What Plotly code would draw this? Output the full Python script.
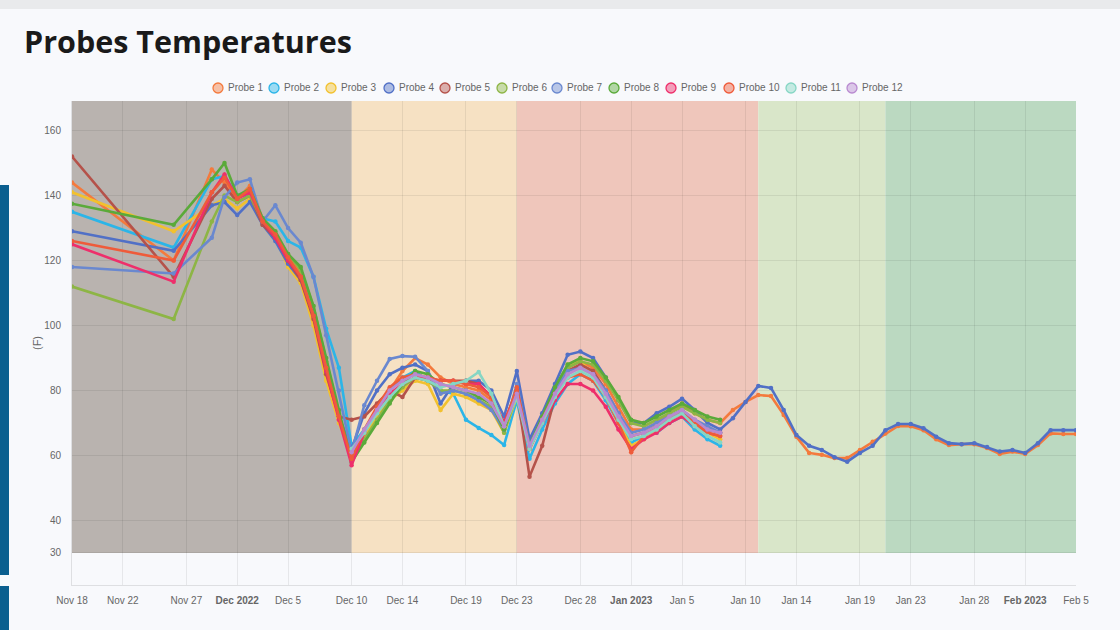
import plotly.graph_objects as go
from datetime import date, timedelta

# ---------------- data ----------------
start_dates = ["2022-11-18", "2022-11-26"]
daily_start = date(2022, 11, 29)
daily_end = date(2023, 2, 5)
dates = start_dates + [(daily_start + timedelta(days=i)).isoformat()
                       for i in range((daily_end - daily_start).days + 1)]

probe_names = [f"Probe {i}" for i in range(1, 13)]
probe_colors = ["#f47a3d", "#2bb5e8", "#f2c12e", "#5170c6", "#b5524a", "#8db545",
                "#6a88cf", "#5aaa3a", "#ee2f6b", "#ef5b3a", "#86d6c4", "#b98ad0"]

# values: Nov18, Nov26, Nov29, Nov30, Dec1..Dec31, Jan1.. (None = no reading)
probe_1 = [144, 120, 148, 144, 139, 143, 133, 128, 121, 116, 104, 87, 71, 60, 66, 73, 80, 86, 90, 88,
           84, 82, 81, 80, 77, 70, 80, 64, 72, 80, 87, 89, 87, 82, 75,
           68, 68, 70, 73, 76, 73, 71, 70, 74, 76.5, 78.6, 78.3, 72.5, 65.8, 60.8, 60.2, 59.2, 59.2,
           61.7, 64.2, 66.8, 69.1, 69, 67.8, 65, 63.2, 63.5, 63.5, 62.3, 60.5, 61.2,
           60.5, 63.2, 66.8, 66.6, 66.6]
probe_2 = [135, 124, 145, 146, 140, 140, 133, 132, 126, 124, 115, 99, 87, 63, 68, 74, 80, 84, 86, 83,
           80, 79, 71, 68.5, 66.3, 63.2, 77, 59, 68, 76, 82, 85, 83, 77, 70,
           64, 66, 67, 70, 72, 68, 65, 63]
probe_3 = [141, 129, 137, 139, 136, 139, 131, 127, 118, 113, 100, 83, 70, 60, 66, 72, 77, 80, 83, 82,
           74, 79, 78, 76, 74, 67, 78, 62, 71, 80, 88, 89, 85, 78, 70,
           63, 65, 68, 71, 73, 70, 67, 65]
probe_4 = [129, 123, 137, 138, 134, 138, 131, 126, 119, 114, 103, 86, 72, 62, 73, 80, 85, 87, 88, 86,
           76, 82, 83, 83, 80, 72, 86, 65, 73, 82, 91, 92, 90, 84, 77,
           70, 70, 73, 75, 77.5, 74, 70, 68, 71.5, 76.5, 81.4, 80.8, 74, 66.3, 63, 61.7, 59.5, 58.1,
           60.8, 63, 67.8, 69.7, 69.7, 68.4, 65.8, 63.8, 63.5, 63.8, 62.6, 61.2, 61.7,
           60.8, 63.8, 67.8, 67.8, 67.8]
probe_5 = [152, 115, 139, 143, 138, 140, 131, 127, 120, 114, 102, 85, 72, 71, 72, 76, 80, 78, 84, 83,
           83, 83, 83, 82, 78, 70, 80, 53.5, 63, 78, 86, 88, 86, 80, 73,
           66, 67, 69, 72, 74, 70, 68, 67]
probe_6 = [112, 102, 132, 140, 138, 140, 132, 128, 122, 117, 106, 89, 73, 59, 65, 71, 77, 81, 84, 83,
           80, 80, 79, 77, 75, 67, 79, 62, 71, 80, 87, 89, 88, 83, 77,
           70, 69, 71, 73, 75, 73, 71, 70]
probe_7 = [118, 116, 127, 139.5, 144, 145, 132, 137, 130, 125.5, 115, 97, 80, 61, 75.5, 83, 89.7, 90.6, 90.4, 86,
           79, 80, 79, 77, 74, 68, 82, 63, 72, 80, 86, 87, 85, 80, 73,
           67, 68, 70, 72, 74, 71, 69, 67]
probe_8 = [137.5, 131, 145, 150, 140, 142, 133, 129, 122, 118, 106, 90, 74, 58, 64, 70, 76, 82, 86, 85,
           82, 81, 80, 78, 76, 68, 80, 63, 72, 81, 88, 90, 89, 84, 78,
           71, 70, 72, 74, 76, 74, 72, 71]
probe_9 = [125, 113.5, 141, 146.5, 139, 141, 132, 127, 120, 115, 103, 86, 71, 57, 67, 74, 79, 82, 84, 84,
           83, 83, 82, 82, 78, 70, 80, 62, 70, 77, 82, 82, 80, 75, 68,
           62, 65, 67, 70, 72, 69, 67, 66]
probe_10 = [126, 120, 141, 145.5, 139, 142, 132, 128, 121, 115, 103, 87, 72, 59, 68, 75, 81, 84, 85, 84,
            83, 83, 82, 81, 78, 69, 81, 62, 71, 79, 84, 85, 83, 78, 70,
            61, 66, 68, 71, 73, 70, 67, 66]
probe_11 = [None] * 13 + [62, 67, 73, 78, 82, 84, 83,
                          81, 82, 83, 85.7, 79, 69, 78, 62, 70, 78, 84, 86, 84, 78, 71,
                          65, 66, 68, 71, 73, 69, 66, 64]
probe_12 = [None] * 13 + [61, 68, 74, 80, 83, 85, 84,
                          82, 81, 80, 79, 76, 69, 79, 63, 71, 79, 85, 87, 85, 79, 72,
                          66, 67, 69, 72, 74, 71, 68, 67]
probe_values = [probe_1, probe_2, probe_3, probe_4, probe_5, probe_6,
                probe_7, probe_8, probe_9, probe_10, probe_11, probe_12]

# background phases
phase_starts = ["2022-11-18", "2022-12-10", "2022-12-23", "2023-01-11", "2023-01-21"]
phase_ends = ["2022-12-10", "2022-12-23", "2023-01-11", "2023-01-21", "2023-02-05"]
phase_colors = ["#b9b3af", "#f6e1c3", "#efc6bb", "#d9e6c9", "#bbd9c1"]

tick_vals = ["2022-11-18", "2022-11-22", "2022-11-27", "2022-12-01", "2022-12-05", "2022-12-10",
             "2022-12-14", "2022-12-19", "2022-12-23", "2022-12-28", "2023-01-01", "2023-01-05",
             "2023-01-10", "2023-01-14", "2023-01-19", "2023-01-23", "2023-01-28", "2023-02-01",
             "2023-02-05"]
tick_text = ["Nov 18", "Nov 22", "Nov 27", "<b>Dec 2022</b>", "Dec 5", "Dec 10", "Dec 14", "Dec 19",
             "Dec 23", "Dec 28", "<b>Jan 2023</b>", "Jan 5", "Jan 10", "Jan 14", "Jan 19", "Jan 23",
             "Jan 28", "<b>Feb 2023</b>", "Feb 5"]
y_ticks = [30, 40, 60, 80, 100, 120, 140, 160]

# legend circle centres (pixels)
legend_x = [218, 274, 331, 389, 445, 502, 557, 614, 671, 729, 791, 852]
legend_y = 88

FONT = "Liberation Sans, Arial, Helvetica, sans-serif"


def hex_rgba(h, a):
    h = h.lstrip("#")
    return f"rgba({int(h[0:2],16)},{int(h[2:4],16)},{int(h[4:6],16)},{a})"


L, R, T, B = 72, 44, 101, 45
PW, PH = 1120 - L - R, 630 - T - B


def px(x):
    return (x - L) / PW


def py(y):
    return (630 - B - y) / PH


fig = go.Figure()

for name, col, vals in zip(probe_names, probe_colors, probe_values):
    fig.add_trace(go.Scatter(
        x=dates[:len(vals)], y=vals, mode="lines+markers", name=name,
        line=dict(color=col, width=2.6), marker=dict(size=4.5, color=col),
        showlegend=False, connectgaps=False))

shapes = []
for s, e, c in zip(phase_starts, phase_ends, phase_colors):
    shapes.append(dict(type="rect", xref="x", yref="y", x0=s, x1=e, y0=30, y1=169.1,
                       fillcolor=c, line=dict(width=0), layer="below"))

# page chrome around the card
shapes += [
    dict(type="rect", xref="paper", yref="paper", x0=px(0), x1=px(1120), y0=py(0), y1=py(9),
         fillcolor="#e9eaec", line=dict(width=0), layer="below"),
    dict(type="rect", xref="paper", yref="paper", x0=px(0), x1=px(9), y0=py(185), y1=py(575),
         fillcolor="#0b5f8f", line=dict(width=0), layer="below"),
    dict(type="rect", xref="paper", yref="paper", x0=px(0), x1=px(9), y0=py(586), y1=py(630),
         fillcolor="#0b5f8f", line=dict(width=0), layer="below"),
]

annotations = []
for name, col, cx in zip(probe_names, probe_colors, legend_x):
    shapes.append(dict(type="circle", xref="paper", yref="paper",
                       x0=px(cx - 5), x1=px(cx + 5), y0=py(legend_y + 5), y1=py(legend_y - 5),
                       fillcolor=hex_rgba(col, 0.45), line=dict(color=col, width=1.3)))
    annotations.append(dict(text=name, xref="paper", yref="paper", x=px(cx + 8), y=py(legend_y),
                            xanchor="left", yanchor="middle", showarrow=False,
                            font=dict(family=FONT, size=10, color="#666666")))

fig.update_layout(
    width=1120, height=630,
    margin=dict(l=L, r=R, t=T, b=B, autoexpand=False),
    paper_bgcolor="#f8f9fc", plot_bgcolor="#f8f9fc",
    font=dict(family=FONT, color="#666666", size=10),
    title=dict(text="<b>Probes Temperatures</b>", x=24 / 1120, xanchor="left",
               y=1 - 42 / 630, yanchor="middle",
               font=dict(family="Open Sans, sans-serif", size=30.5, color="#1a1a1a")),
    shapes=shapes,
    annotations=annotations,
    showlegend=False,
)

fig.update_xaxes(
    type="date", range=["2022-11-18", "2023-02-05"],
    tickvals=tick_vals, ticktext=tick_text, tickangle=0,
    showgrid=True, gridcolor="rgba(0,0,0,0.07)", gridwidth=1,
    showline=True, linecolor="rgba(0,0,0,0.1)", zeroline=False, automargin=False,
    tickfont=dict(family=FONT, size=10, color="#666666"), ticks="", ticklabelstandoff=6,
)
fig.update_yaxes(
    range=[20.15, 169.1], tickvals=y_ticks,
    showgrid=True, gridcolor="rgba(0,0,0,0.07)", gridwidth=1,
    showline=True, linecolor="rgba(0,0,0,0.1)", zeroline=False, automargin=False,
    tickfont=dict(family=FONT, size=10, color="#666666"), ticks="", ticklabelstandoff=8,
    title=dict(text="(F)", font=dict(family=FONT, size=11, color="#666666"), standoff=0),
)

fig.write_html(
    "out.html",
    config={"displayModeBar": False},
    post_script="document.body.style.margin='0';document.body.style.padding='0';"
                "document.body.style.background='#f8f9fc';",
)
